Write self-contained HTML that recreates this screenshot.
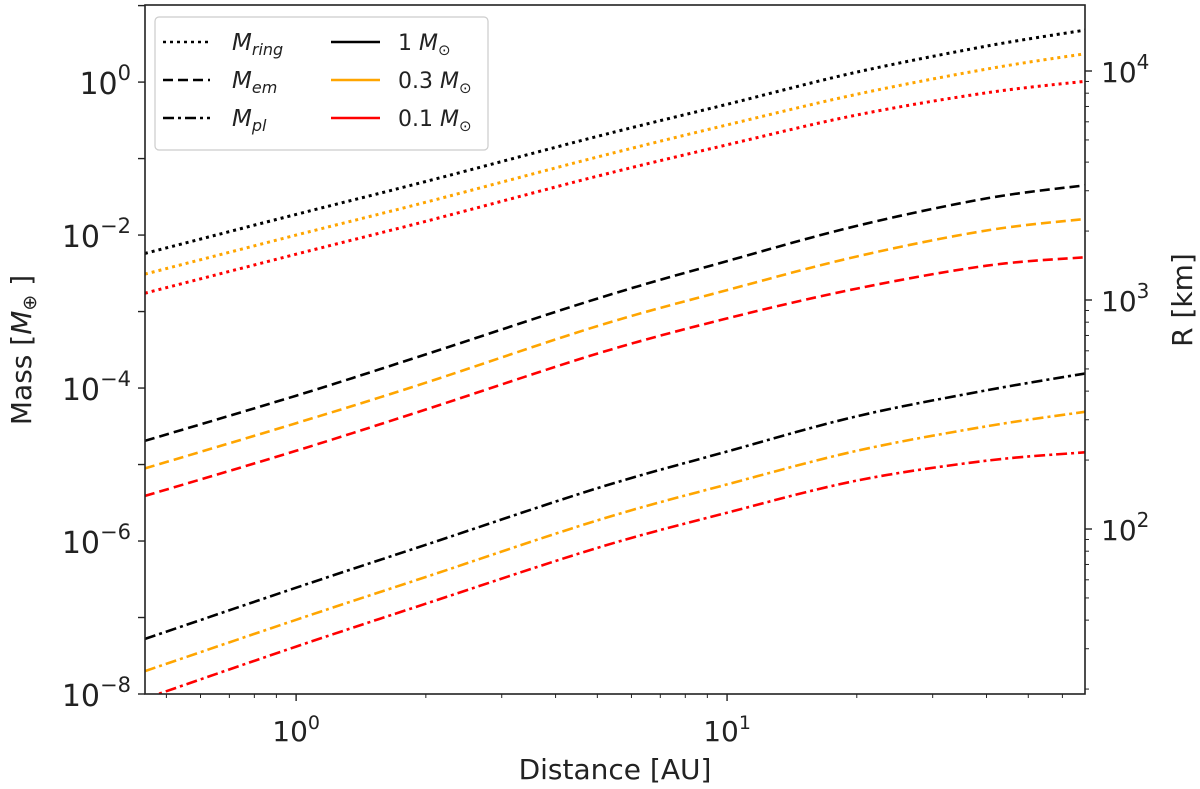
<!DOCTYPE html>
<html><head><meta charset="utf-8">
<style>
body{margin:0;background:#fff;}
svg{display:block;font-family:"DejaVu Sans","Liberation Sans",sans-serif;}
</style></head>
<body>
<svg id="chart" width="1200" height="789" viewBox="0 0 1200 789" xmlns="http://www.w3.org/2000/svg">
<g id="series"></g>
<g id="axes"></g>
<g id="legend"></g>
</svg>
<script>
// Data
const distances = [0.446, 1, 2, 5, 10, 20, 40, 67.7];
const starMasses = ["1", "0.3", "0.1"];
const starColors = ["#000000", "#ffa500", "#ff0000"];
// log10 of mass [M_earth]
const logRing1 = [-2.24, -1.73, -1.30, -0.71, -0.29, 0.13, 0.47, 0.68];
const logRing03 = [-2.51, -2.00, -1.57, -0.98, -0.56, -0.16, 0.17, 0.37];
const logRing01 = [-2.76, -2.25, -1.82, -1.23, -0.82, -0.43, -0.14, 0.01];
const logEm1 = [-4.69, -4.10, -3.56, -2.83, -2.34, -1.88, -1.52, -1.35];
const logEm03 = [-5.05, -4.46, -3.93, -3.19, -2.72, -2.28, -1.94, -1.79];
const logEm01 = [-5.41, -4.82, -4.28, -3.55, -3.09, -2.70, -2.40, -2.29];
const logPl1 = [-7.28, -6.61, -6.05, -5.31, -4.83, -4.37, -4.03, -3.81];
const logPl03 = [-7.70, -7.03, -6.47, -5.73, -5.26, -4.82, -4.50, -4.31];
const logPl01 = [-8.06, -7.38, -6.82, -6.09, -5.63, -5.21, -4.95, -4.84];
const xTickExps = [0, 1];
const yTickExps = [0, -2, -4, -6, -8];
const rTickExps = [4, 3, 2];

const NS = "http://www.w3.org/2000/svg";
const L = 145, R = 1085, T = 5, B = 694;
const xLogMin = Math.log10(0.446), xLogMax = Math.log10(67.7);
const yLogMin = -8, yLogMax = (82 - 5) / 76.4;
const rLogMin = 2 - (694 - 529) / 229, rLogMax = 4 + (71 - 5) / 229;
function xs(v) { return L + (Math.log10(v) - xLogMin) / (xLogMax - xLogMin) * (R - L); }
function ys(lg) { return B - (lg - yLogMin) / (yLogMax - yLogMin) * (B - T); }
function rs(lg) { return B - (lg - rLogMin) / (rLogMax - rLogMin) * (B - T); }

function mk(tag, attrs, parent) {
  const e = document.createElementNS(NS, tag);
  for (const k in attrs) e.setAttribute(k, attrs[k]);
  parent.appendChild(e);
  return e;
}
const gS = document.getElementById('series');
const gA = document.getElementById('axes');
const gL = document.getElementById('legend');

const clip = mk('clipPath', {id: 'pc'}, gS);
mk('rect', {x: L, y: T, width: R - L, height: B - T}, clip);

function smoothPath(pts) {
  let d = `M${pts[0][0].toFixed(1)},${pts[0][1].toFixed(1)}`;
  for (let i = 0; i < pts.length - 1; i++) {
    const p0 = pts[Math.max(i - 1, 0)], p1 = pts[i], p2 = pts[i + 1], p3 = pts[Math.min(i + 2, pts.length - 1)];
    const c1 = [p1[0] + (p2[0] - p0[0]) / 6, p1[1] + (p2[1] - p0[1]) / 6];
    const c2 = [p2[0] - (p3[0] - p1[0]) / 6, p2[1] - (p3[1] - p1[1]) / 6];
    d += ` C${c1[0].toFixed(1)},${c1[1].toFixed(1)} ${c2[0].toFixed(1)},${c2[1].toFixed(1)} ${p2[0].toFixed(1)},${p2[1].toFixed(1)}`;
  }
  return d;
}
const dashes = {ring: "3 4", em: "10 5", pl: "11 4 3 4"};
const seriesList = [
  ['ring', 0, logRing1], ['ring', 1, logRing03], ['ring', 2, logRing01],
  ['em', 0, logEm1], ['em', 1, logEm03], ['em', 2, logEm01],
  ['pl', 0, logPl1], ['pl', 1, logPl03], ['pl', 2, logPl01]
];
seriesList.forEach(s => {
  const pts = distances.map((x, i) => [xs(x), ys(s[2][i])]);
  const p = mk('path', {d: smoothPath(pts), fill: 'none', stroke: starColors[s[1]], 'stroke-width': s[0] === 'ring' ? 3 : 2.6, 'stroke-dasharray': dashes[s[0]], 'clip-path': 'url(#pc)'}, gS);
  
  
});

// frame
const fr = mk('rect', {x: L, y: T, width: R - L, height: B - T, fill: 'none', stroke: '#222', 'stroke-width': 1.6}, gA);



// x ticks
for (let e = -1; e <= 1; e++) {
  for (let m = 1; m <= 9; m++) {
    const v = m * Math.pow(10, e);
    if (v < 0.446 || v > 67.7) continue;
    const x = xs(v), len = m === 1 ? 7 : 4;
    const t = mk('line', {x1: x, x2: x, y1: B, y2: B + len, stroke: '#222', 'stroke-width': m === 1 ? 1.4 : 1}, gA);
    
    
  }
}
xTickExps.forEach(e => {
  const t = mk('text', {x: xs(Math.pow(10, e)), y: 741, 'text-anchor': 'middle', 'font-size': 28, fill: '#222'}, gA);
  t.innerHTML = `10<tspan dy="-12" font-size="19">${e}</tspan>`;
  
  
});
const xl = mk('text', {x: 615, y: 779, 'text-anchor': 'middle', 'font-size': 28, fill: '#222'}, gA);
xl.textContent = 'Distance [AU]';



// left y ticks
for (let e = -8; e <= 1; e++) {
  const y = ys(e);
  if (y < T - 0.5) continue;
  const t = mk('line', {x1: L - 7, x2: L, y1: y, y2: y, stroke: '#222', 'stroke-width': 1.4}, gA);
  
  
}
yTickExps.forEach(e => {
  const t = mk('text', {x: 131, y: ys(e) + 12, 'text-anchor': 'end', 'font-size': 30, fill: '#222'}, gA);
  t.innerHTML = `10<tspan dy="-14" font-size="21">${e === 0 ? '0' : '\u2212' + (-e)}</tspan>`;
  
  
});
const yl = mk('text', {x: 0, y: 0, transform: 'translate(31,350) rotate(-90)', 'text-anchor': 'middle', 'font-size': 28, fill: '#222'}, gA);
yl.innerHTML = 'Mass [<tspan font-style="italic">M</tspan><tspan font-size="19" dy="5">\u2295</tspan><tspan dy="-5"> ]</tspan>';



// right ticks
for (let e = 1; e <= 4; e++) {
  for (let m = 1; m <= 9; m++) {
    const lg = e + Math.log10(m);
    if (lg < rLogMin || lg > rLogMax) continue;
    const y = rs(lg), len = m === 1 ? 7 : 4;
    const t = mk('line', {x1: R, x2: R + len, y1: y, y2: y, stroke: '#222', 'stroke-width': m === 1 ? 1.4 : 1}, gA);
    
    
  }
}
rTickExps.forEach(e => {
  const t = mk('text', {x: 1101, y: rs(e) + 11, 'font-size': 28, fill: '#222'}, gA);
  t.innerHTML = `10<tspan dy="-13" font-size="20">${e}</tspan>`;
  
  
});
const rl = mk('text', {x: 0, y: 0, transform: 'translate(1192,300) rotate(-90)', 'text-anchor': 'middle', 'font-size': 28, fill: '#222'}, gA);
rl.textContent = 'R [km]';



// legend
const lb = mk('rect', {x: 155, y: 17, width: 333, height: 133, rx: 4, fill: '#fff', 'fill-opacity': 0.85, stroke: '#ccc', 'stroke-width': 1.2}, gL);


const rowsY = [42, 80, 118];
const styleNames = [['ring', 'ring'], ['em', 'em'], ['pl', 'pl']];
styleNames.forEach((s, i) => {
  const ln = mk('line', {x1: 163, x2: 210, y1: rowsY[i], y2: rowsY[i], stroke: '#000', 'stroke-width': 2.6, 'stroke-dasharray': dashes[s[0]]}, gL);
  
  
  const tx = mk('text', {x: 232, y: rowsY[i] + 8, 'font-size': 23, 'font-style': 'italic', fill: '#222'}, gL);
  tx.innerHTML = `M<tspan font-size="16" dy="5">${s[1]}</tspan>`;
  
  
});
starMasses.forEach((m, i) => {
  const ln = mk('line', {x1: 331, x2: 380, y1: rowsY[i], y2: rowsY[i], stroke: starColors[i], 'stroke-width': 2.6}, gL);
  
  
  const tx = mk('text', {x: 398, y: rowsY[i] + 8, 'font-size': 22, fill: '#222'}, gL);
  tx.innerHTML = `${m} <tspan font-style="italic">M</tspan><tspan font-size="15" dy="5">\u2299</tspan>`;
  
  
});
</script>
</body></html>
